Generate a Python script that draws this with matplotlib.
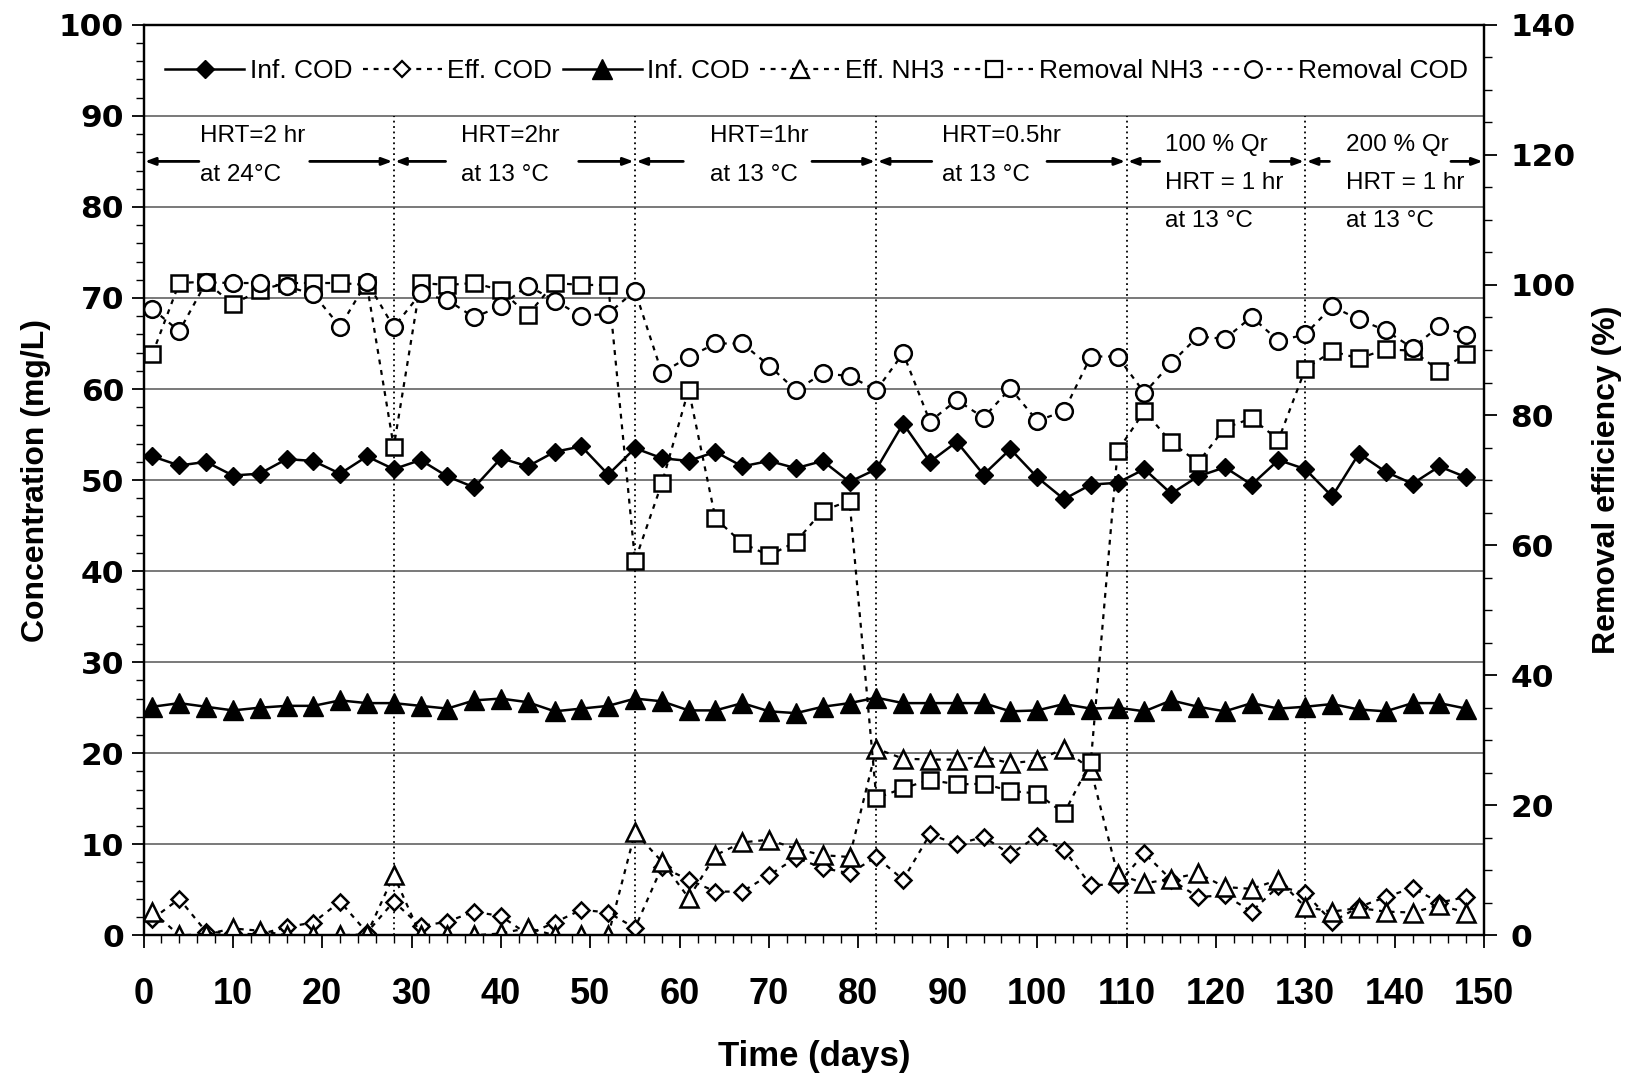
import matplotlib
matplotlib.use("Agg")
import matplotlib.pyplot as plt
from matplotlib import font_manager
from matplotlib.ticker import MultipleLocator
from matplotlib.lines import Line2D

# ---------------- data ----------------
days = [1, 4, 7, 10, 13, 16, 19, 22, 25, 28, 31, 34, 37, 40, 43, 46, 49, 52, 55, 58,
        61, 64, 67, 70, 73, 76, 79, 82, 85, 88, 91, 94, 97, 100, 103, 106, 109, 112, 115, 118,
        121, 124, 127, 130, 133, 136, 139, 142, 145, 148]

inf_cod = [52.6, 51.6, 52.0, 50.5, 50.7, 52.3, 52.1, 50.7, 52.6, 51.2,
           52.2, 50.4, 49.2, 52.4, 51.5, 53.1, 53.7, 50.6, 53.5, 52.4,
           52.1, 53.1, 51.5, 52.1, 51.3, 52.1, 49.8, 51.2, 56.2, 52.0,
           54.2, 50.6, 53.4, 50.3, 47.9, 49.5, 49.7, 51.2, 48.5, 50.4,
           51.4, 49.5, 52.2, 51.2, 48.2, 52.9, 50.9, 49.6, 51.5, 50.3]

eff_cod = [1.8, 4.0, 0.4, 0.2, 0.1, 0.9, 1.4, 3.7, 0.3, 3.7,
           1.0, 1.5, 2.6, 2.1, 0.1, 1.4, 2.8, 2.5, 0.8, 7.5,
           6.1, 4.8, 4.8, 6.6, 8.5, 7.4, 6.8, 8.6, 6.1, 11.1,
           10.0, 10.8, 8.9, 10.9, 9.4, 5.5, 5.6, 9.0, 6.1, 4.2,
           4.4, 2.6, 5.4, 4.6, 1.5, 3.1, 4.2, 5.2, 3.6, 4.2]

inf_nh3 = [25.1, 25.5, 25.1, 24.7, 25.0, 25.2, 25.2, 25.8, 25.5, 25.5,
           25.2, 24.9, 25.8, 26.0, 25.6, 24.6, 24.9, 25.2, 26.0, 25.7,
           24.7, 24.7, 25.5, 24.6, 24.4, 25.1, 25.5, 26.1, 25.5, 25.5,
           25.5, 25.5, 24.6, 24.7, 25.4, 24.9, 25.0, 24.6, 25.8, 25.1,
           24.6, 25.5, 24.9, 25.1, 25.4, 24.8, 24.6, 25.5, 25.5, 24.9]

eff_nh3 = [2.6, 0.0, 0.1, 0.75, 0.5, 0.0, 0.0, 0.0, 0.1, 6.6,
           0.0, 0.0, 0.0, 0.2, 0.8, 0.0, 0.0, 0.0, 11.3, 8.1,
           4.1, 8.8, 10.2, 10.5, 9.5, 8.8, 8.6, 20.5, 19.4, 19.3,
           19.3, 19.6, 18.9, 19.2, 20.5, 18.2, 6.7, 5.7, 6.2, 6.8,
           5.3, 5.1, 6.1, 3.1, 2.6, 3.0, 2.6, 2.5, 3.3, 2.5]

removal_nh3 = [89.4, 100.3, 100.5, 97.0, 99.2, 100.3, 100.3, 100.3, 100.0, 75.1,
               100.3, 100.0, 100.3, 99.2, 95.4, 100.3, 100.0, 100.0, 57.6, 69.5,
               83.9, 64.1, 60.3, 58.4, 60.5, 65.3, 66.8, 21.1, 22.6, 23.9,
               23.2, 23.3, 22.2, 21.8, 18.75, 26.7, 74.5, 80.6, 75.8, 72.7,
               78.0, 79.5, 76.2, 87.1, 89.8, 88.7, 90.1, 89.9, 86.8, 89.4]

removal_cod = [96.3, 92.9, 100.4, 100.3, 100.3, 99.8, 98.6, 93.6, 100.5, 93.5,
               98.7, 97.7, 95.0, 96.8, 99.9, 97.6, 95.2, 95.6, 99.1, 86.5,
               88.9, 91.0, 91.0, 87.6, 83.8, 86.4, 86.0, 83.8, 89.5, 79.0,
               82.3, 79.6, 84.1, 79.1, 80.6, 89.0, 89.0, 83.4, 88.0, 92.1,
               91.7, 95.1, 91.4, 92.4, 96.7, 94.7, 93.0, 90.3, 93.7, 92.3]

# operating phases: boundaries (days) and their descriptions
phase_bounds = [0, 28, 55, 82, 110, 130, 150]
phase_labels = ["HRT=2 hr\nat 24°C",
                "HRT=2hr\nat 13 °C",
                "HRT=1hr\nat 13 °C",
                "HRT=0.5hr\nat 13 °C",
                "100 % Qr\nHRT = 1 hr\nat 13 °C",
                "200 % Qr\nHRT = 1 hr\nat 13 °C"]


# ---------------- fonts ----------------
def have_font(name):
    try:
        font_manager.findfont(font_manager.FontProperties(family=name),
                              fallback_to_default=False)
        return True
    except Exception:
        return False


NARROW = "Liberation Sans Narrow" if have_font("Liberation Sans Narrow") else "Liberation Sans"
WIDE = "DejaVu Sans"

# ---------------- figure ----------------
fig = plt.figure(figsize=(16.42, 10.80), dpi=100)
ax = fig.add_axes([0.0874, 0.134, 0.8164, 0.843])
ax2 = ax.twinx()

ax.set_xlim(0, 150)
ax.set_ylim(0, 100)
ax2.set_ylim(0, 140)

# horizontal grid on the concentration axis
for v in range(10, 100, 10):
    ax.axhline(v, color="#6e6e6e", lw=1.3, zorder=0)

# phase separators
for b in phase_bounds[1:-1]:
    ax.plot([b, b], [0, 90], color="black", lw=1.3, ls=(0, (1, 2)), zorder=1)

dot = (0, (2.2, 2.6))

# concentration series
ax.plot(days, inf_cod, color="black", lw=1.8, marker="D", ms=9.2,
        mfc="black", mec="black", zorder=4)
ax.plot(days, eff_cod, color="black", lw=1.6, ls=dot, marker="D", ms=7.8,
        mfc="white", mec="black", mew=1.8, zorder=4)
ax.plot(days, inf_nh3, color="black", lw=1.8, marker="^", ms=14,
        mfc="black", mec="black", zorder=4)
ax.plot(days, eff_nh3, color="black", lw=1.6, ls=dot, marker="^", ms=13,
        mfc="white", mec="black", mew=1.8, zorder=5)

# removal efficiency series
ax2.plot(days, removal_nh3, color="black", lw=1.6, ls=dot, marker="s", ms=11.5,
         mfc="white", mec="black", mew=1.8, zorder=4)
ax2.plot(days, removal_cod, color="black", lw=1.6, ls=dot, marker="o", ms=12,
         mfc="white", mec="black", mew=1.8, zorder=5)

# phase arrows and descriptions
arrow_y = 85
text_left = [6.3, 35.5, 63.4, 89.4, 114.3, 134.5]
gap_left = [6.2, 33.8, 60.4, 88.2, 113.7, 132.7]
gap_right = [18.6, 48.7, 74.8, 101.1, 126.1, 146.3]
arrow_kw = dict(arrowstyle="-|>,head_length=0.6,head_width=0.22", color="black",
                lw=2.0, shrinkA=0, shrinkB=0)
for i, label in enumerate(phase_labels):
    a, b = phase_bounds[i], phase_bounds[i + 1]
    ax.annotate("", xy=(a + 0.15, arrow_y), xytext=(gap_left[i], arrow_y),
                arrowprops=arrow_kw, zorder=3)
    ax.annotate("", xy=(b - 0.15, arrow_y), xytext=(gap_right[i], arrow_y),
                arrowprops=arrow_kw, zorder=3)
    lines = label.split("\n")
    if len(lines) == 2:
        ys = [87.8, 83.5]
    else:
        ys = [86.8, 82.6, 78.5]
    for yv, line in zip(ys, lines):
        ax.text(text_left[i], yv, line, family=NARROW, fontsize=17.5,
                ha="left", va="center", zorder=3)

# ---------------- axes styling ----------------
ax.xaxis.set_major_locator(MultipleLocator(10))
ax.xaxis.set_minor_locator(MultipleLocator(2))
ax.yaxis.set_major_locator(MultipleLocator(10))
ax.yaxis.set_minor_locator(MultipleLocator(2))
ax2.yaxis.set_major_locator(MultipleLocator(20))
ax2.yaxis.set_minor_locator(MultipleLocator(5))

for a_ in (ax, ax2):
    for s in a_.spines.values():
        s.set_linewidth(1.6)
        s.set_color("black")

ax.tick_params(axis="x", which="major", direction="out", length=9, width=1.3, pad=21)
ax.tick_params(axis="x", which="minor", direction="out", length=6, width=1.0)
ax.tick_params(axis="y", which="major", direction="out", length=9, width=1.3, pad=5)
ax.tick_params(axis="y", which="minor", direction="out", length=6, width=1.0)
ax2.tick_params(axis="y", which="major", direction="out", length=9, width=1.3, pad=10)
ax2.tick_params(axis="y", which="minor", direction="out", length=6, width=1.0)

for lab in ax.get_xticklabels():
    lab.set_family(NARROW)
    lab.set_fontweight("bold")
    lab.set_fontsize(26)
for lab in ax.get_yticklabels() + ax2.get_yticklabels():
    lab.set_family(WIDE)
    lab.set_fontweight("bold")
    lab.set_fontsize(22.5)

ax.set_xlabel("Time (days)", family=NARROW, fontweight="bold", fontsize=25, labelpad=20)
ax.set_ylabel("Concentration (mg/L)", family="Liberation Sans", fontweight="bold",
              fontsize=23, labelpad=6)
ax2.set_ylabel("Removal efficiency (%)", family="Liberation Sans", fontweight="bold",
               fontsize=23, labelpad=12)

# ---------------- legend ----------------
handles = [
    Line2D([], [], color="black", lw=1.8, marker="D", ms=8.8, mfc="black"),
    Line2D([], [], color="black", lw=1.6, ls=dot, marker="D", ms=7.8, mfc="white", mew=1.6),
    Line2D([], [], color="black", lw=1.8, marker="^", ms=14, mfc="black"),
    Line2D([], [], color="black", lw=1.6, ls=dot, marker="^", ms=13, mfc="white", mew=1.6),
    Line2D([], [], color="black", lw=1.6, ls=dot, marker="s", ms=11.5, mfc="white", mew=1.6),
    Line2D([], [], color="black", lw=1.6, ls=dot, marker="o", ms=12, mfc="white", mew=1.6),
]
labels = ["Inf. COD", "Eff. COD", "Inf. COD", "Eff. NH3", "Removal NH3", "Removal COD"]
ax2.legend(handles, labels, loc="center", bbox_to_anchor=(0.502, 0.949), ncol=6,
           frameon=False, handlelength=3.0, handletextpad=0.2, columnspacing=0.4,
           prop=dict(family=NARROW, size=19))

fig.savefig("out.png", dpi=100)
